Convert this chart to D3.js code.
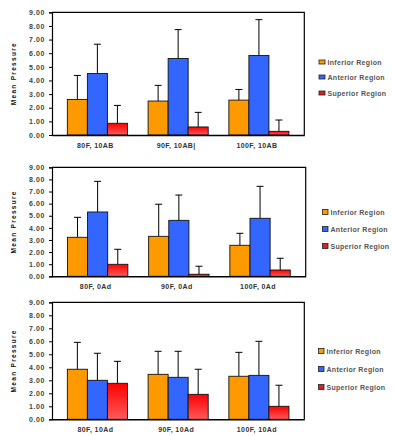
<!DOCTYPE html>
<html><head><meta charset="utf-8">
<script src="https://cdn.jsdelivr.net/npm/d3@7"></script>
<style>body{margin:0;background:#fff}svg{display:block}</style>
</head><body>
<script>
// ---- data ----
const seriesNames = ["Inferior Region", "Anterior Region", "Superior Region"];
const yTicks = [0, 1, 2, 3, 4, 5, 6, 7, 8, 9];
const yTitle = "Mean Pressure";

const cats1 = ["80F, 10AB", "90F, 10AB|", "100F, 10AB"];
const inf1 = [2.61, 2.49, 2.56], infErr1 = [1.76, 1.15, 0.78];
const ant1 = [4.51, 5.61, 5.83], antErr1 = [2.15, 2.12, 2.63];
const sup1 = [0.86, 0.59, 0.27], supErr1 = [1.31, 1.07, 0.83];

const cats2 = ["80F, 0Ad", "90F, 0Ad", "100F, 0Ad"];
const inf2 = [3.22, 3.30, 2.56], infErr2 = [1.65, 2.65, 0.99];
const ant2 = [5.31, 4.62, 4.79], antErr2 = [2.53, 2.09, 2.64];
const sup2 = [0.99, 0.17, 0.52], supErr2 = [1.24, 0.66, 0.97];

const cats3 = ["80F, 10Ad", "90F, 10Ad", "100F, 10Ad"];
const inf3 = [3.85, 3.46, 3.31], infErr3 = [2.07, 1.77, 1.84];
const ant3 = [3.00, 3.23, 3.38], antErr3 = [2.08, 2.00, 2.62];
const sup3 = [2.77, 1.92, 1.00], supErr3 = [1.69, 1.93, 1.62];

const colors = ["#FF9900", "#3366FF", "#FF0000"];

// ---- layout ----
const W = 393, H = 436;
const svg = d3.select("body").append("svg").attr("width", W).attr("height", H);
const defs = svg.append("defs");
const grad = defs.append("linearGradient").attr("id", "redGrad")
  .attr("x1", 0).attr("y1", 0).attr("x2", 0).attr("y2", 1);
grad.append("stop").attr("offset", "0%").attr("stop-color", "#FF0000");
grad.append("stop").attr("offset", "100%").attr("stop-color", "#FF5A5A");

const panels = [
  {cats: cats1, vals: [inf1, ant1, sup1], errs: [infErr1, antErr1, supErr1],
   top: 12.3, bottom: 135, left: 52, right: 304.3,
   legX: 319, legY: [62, 77, 93], legW: 6, legH: 4},
  {cats: cats2, vals: [inf2, ant2, sup2], errs: [infErr2, antErr2, supErr2],
   top: 167.3, bottom: 276.3, left: 52, right: 305.7,
   legX: 322.5, legY: [212, 229, 246], legW: 5.5, legH: 5},
  {cats: cats3, vals: [inf3, ant3, sup3], errs: [infErr3, antErr3, supErr3],
   top: 302.3, bottom: 419.3, left: 52, right: 304.3,
   legX: 318.5, legY: [351, 369, 387], legW: 5.5, legH: 5}
];

const font = "'Liberation Sans', Arial, sans-serif";

panels.forEach(p => {
  const g = svg.append("g");
  const y = d3.scaleLinear().domain([0, 9]).range([p.bottom, p.top]);
  const x0 = d3.scaleBand().domain(p.cats).range([p.left, p.right])
    .paddingInner(0.256).paddingOuter(0.19);
  const x1 = d3.scaleBand().domain(d3.range(3)).range([0, x0.bandwidth()]);

  // frame (top and right)
  g.append("path")
    .attr("d", `M${p.left},${p.top}H${p.right}V${p.bottom}`)
    .attr("fill", "none").attr("stroke", "#000").attr("stroke-width", 1.2);

  // bars
  p.cats.forEach((c, ci) => {
    d3.range(3).forEach(si => {
      const v = p.vals[si][ci];
      const e = p.errs[si][ci];
      const bx = x0(c) + x1(si);
      const bw = x1.bandwidth();
      const cx = bx + bw / 2;
      // error bar
      g.append("line").attr("x1", cx).attr("x2", cx)
        .attr("y1", y(v)).attr("y2", y(v + e))
        .attr("stroke", "#000").attr("stroke-width", 1);
      g.append("line").attr("x1", cx - 3.5).attr("x2", cx + 3.5)
        .attr("y1", y(v + e)).attr("y2", y(v + e))
        .attr("stroke", "#000").attr("stroke-width", 1);
      g.append("rect").attr("x", bx).attr("y", y(v))
        .attr("width", bw).attr("height", y(0) - y(v))
        .attr("fill", si === 2 ? "url(#redGrad)" : colors[si])
        .attr("stroke", "#111").attr("stroke-width", 0.9);
    });
  });

  // y axis
  const yAxis = d3.axisLeft(y).tickValues(yTicks).tickFormat(d3.format(".2f"))
    .tickSize(3).tickPadding(4);
  const ya = g.append("g").attr("transform", `translate(${p.left},0)`).call(yAxis);
  ya.select(".domain").attr("stroke", "#000").attr("stroke-width", 1.2);
  ya.selectAll(".tick line").attr("stroke", "#000");
  ya.selectAll("text").attr("font-family", font).attr("font-size", 7)
    .attr("font-weight", "bold").attr("fill", "#444").attr("letter-spacing", 0.6);

  // x axis
  const xAxis = d3.axisBottom(x0).tickSize(0).tickPadding(8);
  const xa = g.append("g").attr("transform", `translate(0,${p.bottom})`).call(xAxis);
  xa.select(".domain").attr("stroke", "#000").attr("stroke-width", 1.6);
  xa.selectAll("text").attr("font-family", font).attr("font-size", 7)
    .attr("font-weight", "bold").attr("fill", "#333").attr("letter-spacing", 0.4)
    .attr("dx", -2);

  // y title
  g.append("text")
    .attr("transform", `translate(16,${(p.top + p.bottom) / 2}) rotate(-90)`)
    .attr("text-anchor", "middle")
    .attr("font-family", font).attr("font-size", 6.5).attr("font-weight", "bold")
    .attr("letter-spacing", 1.3).attr("fill", "#111")
    .text(yTitle);

  // legend
  seriesNames.forEach((n, si) => {
    const ly = p.legY[si];
    g.append("rect").attr("x", p.legX).attr("y", ly - p.legH / 2)
      .attr("width", p.legW).attr("height", p.legH)
      .attr("fill", si === 2 ? "#E02020" : colors[si])
      .attr("stroke", "#222").attr("stroke-width", 0.8);
    g.append("text").attr("x", p.legX + p.legW + 2.5).attr("y", ly + 2.5)
      .attr("font-family", font).attr("font-size", 7).attr("font-weight", "bold")
      .attr("fill", "#555").attr("letter-spacing", 0.3)
      .text(n);
  });
});
</script>
</body></html>
